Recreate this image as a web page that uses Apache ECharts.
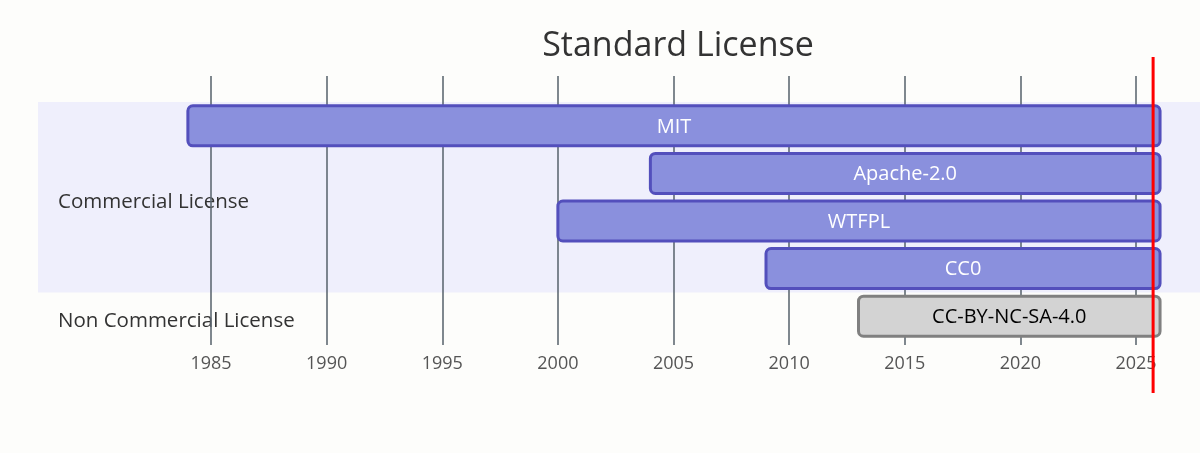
<!DOCTYPE html>
<html>
<head>
<meta charset="utf-8">
<script src="https://cdn.jsdelivr.net/npm/echarts@6/dist/echarts.min.js"></script>
<style>
html, body { margin: 0; padding: 0; background: #fdfdfb; }
#chart { width: 1200px; height: 453px; }
</style>
</head>
<body>
<div id="chart"></div>
<script>
// tasks (rows, top to bottom)
var tasks = ['MIT', 'Apache-2.0', 'WTFPL', 'CC0', 'CC-BY-NC-SA-4.0'];
var taskSection = [0, 0, 0, 0, 1];
var taskStart = [1984.0, 2004.0, 2000.0, 2009.0, 2013.0];
var taskEnd = [2026.04, 2026.04, 2026.04, 2026.04, 2026.04];

// sections
var sections = ['Commercial License', 'Non Commercial License'];
var sectionFirst = [0, 4];
var sectionLast = [3, 4];

// today marker (fractional year)
var today = 2025.74;

var chart = echarts.init(document.getElementById('chart'));
var font = '"Open Sans", "DejaVu Sans", sans-serif';

var barData = [];
for (var i = 0; i < tasks.length; i++) {
    barData.push([i, taskStart[i], taskEnd[i], taskSection[i]]);
}
var sectionData = [];
for (var s = 0; s < sections.length; s++) {
    sectionData.push([sectionFirst[s], sectionLast[s], s]);
}

function renderSection(params, api) {
    var first = api.value(0), last = api.value(1), idx = api.value(2);
    var band = api.size([0, 1])[1];
    var top = api.coord([1985, first])[1] - band / 2;
    var bottom = api.coord([1985, last])[1] + band / 2;
    return {
        type: 'group',
        children: [{
            type: 'rect',
            shape: { x: 38, y: top, width: api.getWidth() - 38, height: bottom - top },
            style: { fill: idx === 0 ? '#efeffc' : 'rgba(0,0,0,0)' }
        }, {
            type: 'text',
            style: {
                x: 58, y: (top + bottom) / 2 + 5,
                text: sections[idx],
                fill: '#333',
                font: '20.5px ' + font,
                textAlign: 'left', textVerticalAlign: 'middle'
            }
        }]
    };
}

function renderBar(params, api) {
    var row = api.value(0);
    var a = api.coord([api.value(1), row]);
    var b = api.coord([api.value(2), row]);
    var h = api.size([0, 1])[1] * 0.84;
    var grey = api.value(3) === 1;
    return {
        type: 'group',
        children: [{
            type: 'rect',
            shape: { x: a[0], y: a[1] - h / 2, width: b[0] - a[0], height: h, r: 5 },
            style: {
                fill: grey ? '#d3d3d3' : '#8a90dd',
                stroke: grey ? '#808080' : '#534fbc',
                lineWidth: 3
            }
        }, {
            type: 'text',
            style: {
                x: (a[0] + b[0]) / 2, y: a[1] + 1,
                text: tasks[row],
                fill: grey ? '#000' : '#fff',
                font: '20px ' + font,
                textAlign: 'center', textVerticalAlign: 'middle'
            }
        }]
    };
}

function renderToday(params, api) {
    var x = api.coord([api.value(0), 0])[0];
    return {
        type: 'line',
        shape: { x1: x, y1: 57, x2: x, y2: 393 },
        style: { stroke: '#ff0000', lineWidth: 3 }
    };
}

chart.setOption({
    backgroundColor: '#fdfdfb',
    animation: false,
    title: {
        text: 'Standard License',
        left: 673, top: 24,
        textAlign: 'center',
        textStyle: { fontFamily: font, fontSize: 34, fontWeight: 'normal', color: '#333' }
    },
    grid: [
        { left: 211, right: 64, top: 76, bottom: 108 },
        { left: 211, right: 64, top: 102, bottom: 113 }
    ],
    xAxis: [{
        type: 'value', gridIndex: 0, min: 1985, max: 2025, interval: 5, z: 1,
        axisLine: { show: false },
        axisTick: { show: false },
        axisLabel: {
            margin: 10, color: '#555', fontSize: 18, fontFamily: font,
            formatter: function (v) { return String(v); }
        },
        splitLine: { show: true, lineStyle: { color: '#5f6a73', width: 1.6 } }
    }, {
        type: 'value', gridIndex: 1, min: 1985, max: 2025, show: false
    }],
    yAxis: [{
        type: 'value', gridIndex: 0, show: false
    }, {
        type: 'category', gridIndex: 1, data: tasks, inverse: true, show: false
    }],
    series: [{
        type: 'custom', xAxisIndex: 1, yAxisIndex: 1, z: 0,
        renderItem: renderSection, data: sectionData, silent: true
    }, {
        type: 'custom', xAxisIndex: 1, yAxisIndex: 1, z: 2,
        renderItem: renderBar, data: barData
    }, {
        type: 'custom', xAxisIndex: 1, yAxisIndex: 1, z: 3,
        renderItem: renderToday, data: [[today]]
    }]
});
</script>
</body>
</html>
